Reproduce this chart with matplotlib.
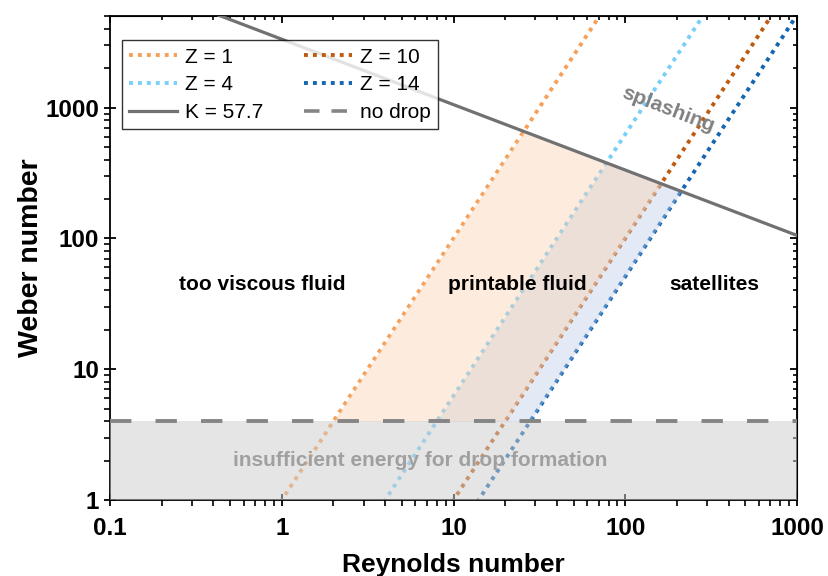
import numpy as np
import matplotlib.pyplot as plt
from matplotlib.lines import Line2D

plt.rcParams['font.family'] = ['Liberation Sans', 'DejaVu Sans']

# Ohnesorge inverse values Z = Re / sqrt(We)
z_values = [1, 4, 10, 14]
z_colors = ['#F5A05A', '#78CFF7', '#C05A10', '#1565B0']
k_splash = 57.7          # K = We^0.5 * Re^0.25
we_nodrop = 4            # minimum Weber number for drop formation
x_ticks = [0.1, 1, 10, 100, 1000]
x_labels = ['0.1', '1', '10', '100', '1000']
y_ticks = [1, 10, 100, 1000]
y_labels = ['1', '10', '100', '1000']

re = np.logspace(-1, 3, 800)


def z_line(z):
    return (re / z) ** 2


splash = k_splash ** 2 / np.sqrt(re)

fig = plt.figure(figsize=(8.29, 5.76), dpi=100)
ax = fig.add_axes([0.1327, 0.132, 0.8287, 0.840])
ax.set_xscale('log')
ax.set_yscale('log')
ax.set_xlim(0.1, 1000)
ax.set_ylim(1, 5000)

lines = {}
for z, c in zip(z_values, z_colors):
    lines[z], = ax.plot(re, z_line(z), color=c, lw=2.8,
                        linestyle=(0, (1, 1.3)), label='Z = %d' % z, zorder=2)

# printable regions (blue first, orange on top)
lo = np.maximum(we_nodrop, z_line(14))
hi = np.minimum(z_line(4), splash)
ax.fill_between(re, lo, hi, where=hi > lo, color=(185/255, 202/255, 232/255),
                alpha=0.4, lw=0, zorder=3)
lo = np.maximum(we_nodrop, z_line(10))
hi = np.minimum(z_line(1), splash)
ax.fill_between(re, lo, hi, where=hi > lo, color=(250/255, 208/255, 173/255),
                alpha=0.4, lw=0, zorder=3)

ax.axhspan(1, we_nodrop, color='#CDCDCD', alpha=0.5, lw=0, zorder=4)

k_line, = ax.plot(re, splash, color='#717171', lw=2.3, label='K = 57.7', zorder=5)
ax.axhline(we_nodrop, color='#858585', lw=2.8, linestyle=(0, (5.5, 6.2)), zorder=5)
nd_handle = Line2D([], [], color='#858585', lw=2.6, linestyle=(0, (4.3, 3.3)),
                   label='no drop')

bold = dict(fontsize=15, fontweight='bold', ha='center', va='center', zorder=6)
ax.text(0.77, 44.6, 'too viscous fluid', **bold)
ax.text(23.5, 44.6, 'printable fluid', **bold)
ax.text(329, 44.6, 'satellites', **bold)
ax.text(6.4, 2.02, 'insufficient energy for drop formation', color='#A0A0A0',
        **bold)
ax.text(177, 960, 'splashing', color='#808080', rotation=-21, **bold)

handles = [lines[1], lines[4], k_line, lines[10], lines[14], nd_handle]
leg = ax.legend(handles=handles, ncol=2, loc='upper left',
                bbox_to_anchor=(0.0175, 0.95), fontsize=15, frameon=True,
                fancybox=False, edgecolor='black', handlelength=2.3,
                columnspacing=2.0, borderpad=0.35, labelspacing=0.42,
                handletextpad=0.35, borderaxespad=0)
leg.get_frame().set_linewidth(1.0)

ax.set_xticks(x_ticks)
ax.set_xticklabels(x_labels)
ax.set_yticks(y_ticks)
ax.set_yticklabels(y_labels)
ax.tick_params(which='major', direction='inout', length=9, width=1.3,
               labelsize=17.5)
ax.tick_params(axis='x', which='major', pad=8)
ax.tick_params(which='minor', direction='out', length=4, width=1.2)
for lab in ax.get_xticklabels() + ax.get_yticklabels():
    lab.set_fontweight('bold')
for s in ax.spines.values():
    s.set_linewidth(1.3)

secx = ax.secondary_xaxis('top')
secx.set_xticks(x_ticks)
secx.tick_params(which='major', direction='in', length=5, width=1.3, labeltop=False)
secx.tick_params(which='minor', direction='in', length=3, width=1.2)
secy = ax.secondary_yaxis('right')
secy.set_yticks(y_ticks)
secy.tick_params(which='major', direction='in', length=5, width=1.3, labelright=False)
secy.tick_params(which='minor', direction='in', length=3, width=1.2)

ax.set_xlabel('Reynolds number', fontsize=19, fontweight='bold', labelpad=9)
ax.set_ylabel('Weber number', fontsize=20.5, fontweight='bold', labelpad=1)

fig.savefig('out.png', dpi=100)
